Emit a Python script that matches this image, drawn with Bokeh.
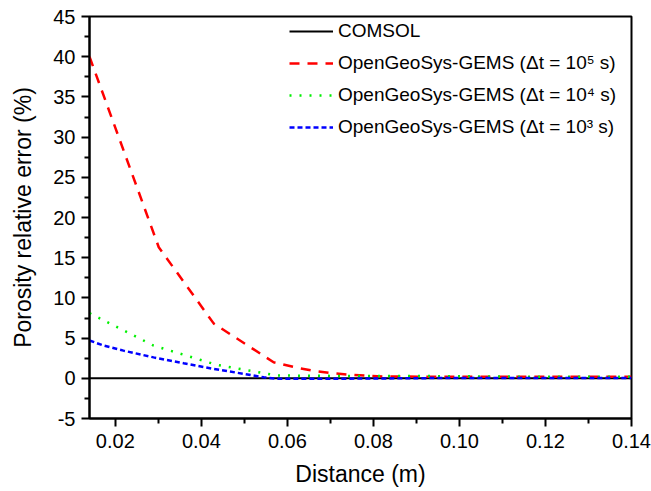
from bokeh.plotting import figure
from bokeh.models import Range1d, FixedTicker, NumeralTickFormatter, Legend, LegendItem
from bokeh.embed import file_html
from bokeh.resources import INLINE

# ---- data ----
comsol_x = [0.014, 0.03, 0.05, 0.07, 0.09, 0.11, 0.13, 0.14]
comsol_y = [0.0, 0.0, 0.0, 0.0, 0.0, 0.0, 0.0, 0.0]

dt5_x = [0.014, 0.0301, 0.0429, 0.0568, 0.0621, 0.0658, 0.0700, 0.0742, 0.0824, 0.095, 0.11, 0.125, 0.14]
dt5_y = [40.0, 16.3, 6.8, 2.0, 1.33, 0.96, 0.65, 0.46, 0.22, 0.2, 0.18, 0.2, 0.2]

dt4_x = [0.014, 0.0289, 0.0434, 0.0576, 0.070, 0.085, 0.10, 0.115, 0.13, 0.14]
dt4_y = [8.1, 4.07, 1.7, 0.35, 0.3, 0.3, 0.25, 0.2, 0.2, 0.2]

dt3_x = [0.014, 0.0173, 0.0219, 0.0289, 0.0359, 0.0429, 0.0499, 0.0545, 0.0576, 0.072, 0.0865, 0.10, 0.115, 0.13, 0.14]
dt3_y = [4.7, 4.07, 3.44, 2.6, 1.87, 1.17, 0.55, 0.12, -0.05, -0.05, 0.0, 0.05, 0.05, 0.05, 0.05]

x_ticks = [0.02, 0.04, 0.06, 0.08, 0.10, 0.12, 0.14]
x_minor = [0.03, 0.05, 0.07, 0.09, 0.11, 0.13]
y_ticks = [-5, 0, 5, 10, 15, 20, 25, 30, 35, 40, 45]
y_minor = [-2.5, 2.5, 7.5, 12.5, 17.5, 22.5, 27.5, 32.5, 37.5, 42.5]

labels = ["COMSOL",
          "OpenGeoSys-GEMS (\u0394t = 10\u2075 s)",
          "OpenGeoSys-GEMS (\u0394t = 10\u2074 s)",
          "OpenGeoSys-GEMS (\u0394t = 10\u00b3 s)"]

FONT = "Liberation Sans"

p = figure(width=651, height=491, output_backend="svg", toolbar_location=None,
           x_range=Range1d(0.014, 0.14), y_range=Range1d(-5, 45),
           min_border_left=89, min_border_right=20, min_border_top=16, min_border_bottom=73)
p.background_fill_color = "white"
p.border_fill_color = "white"
p.grid.visible = False
p.outline_line_color = "black"
p.outline_line_width = 2

for ax in (p.xaxis[0], p.yaxis[0]):
    ax.axis_line_width = 2
    ax.axis_line_color = "black"
    ax.major_tick_line_width = 2
    ax.minor_tick_line_width = 2
    ax.major_tick_line_color = "black"
    ax.minor_tick_line_color = "black"
    ax.major_tick_in = 0
    ax.major_tick_out = 8
    ax.minor_tick_in = 0
    ax.minor_tick_out = 5
    ax.major_label_text_font = FONT
    ax.major_label_text_font_size = "20px"
    ax.major_label_text_color = "black"
    ax.axis_label_text_font = FONT
    ax.axis_label_text_font_size = "23px"
    ax.axis_label_text_font_style = "normal"
    ax.axis_label_text_color = "black"

p.xaxis.ticker = FixedTicker(ticks=x_ticks, minor_ticks=x_minor)
p.yaxis.ticker = FixedTicker(ticks=y_ticks, minor_ticks=y_minor)
p.xaxis.formatter = NumeralTickFormatter(format="0.00")
p.yaxis.formatter = NumeralTickFormatter(format="0")
p.xaxis.axis_label = "Distance (m)"
p.yaxis.axis_label = "Porosity relative error (%)"
p.xaxis.major_label_standoff = 7
p.yaxis.major_label_standoff = 6
p.xaxis.axis_label_standoff = 10
p.yaxis.axis_label_standoff = 14

r0 = p.line(comsol_x, comsol_y, line_color="black", line_width=2)
r1 = p.line(dt5_x, dt5_y, line_color="#ff0000", line_width=2.5, line_dash="10 8")
r2 = p.line(dt4_x, dt4_y, line_color="#00f000", line_width=2.5, line_dash="2 8")
r3 = p.line(dt3_x, dt3_y, line_color="#0000ff", line_width=2.5, line_dash="5 3")

legend = Legend(items=[LegendItem(label=labels[0], renderers=[r0]),
                       LegendItem(label=labels[1], renderers=[r1]),
                       LegendItem(label=labels[2], renderers=[r2]),
                       LegendItem(label=labels[3], renderers=[r3])],
                location=(200, 280), padding=0, margin=0, spacing=10,
                glyph_width=44, glyph_height=20, label_height=20, label_standoff=5,
                label_text_font=FONT, label_text_font_size="19px", label_text_color="black",
                border_line_color=None, background_fill_alpha=0)
p.add_layout(legend, "center")

open("out.html", "w").write(file_html(p, INLINE))
